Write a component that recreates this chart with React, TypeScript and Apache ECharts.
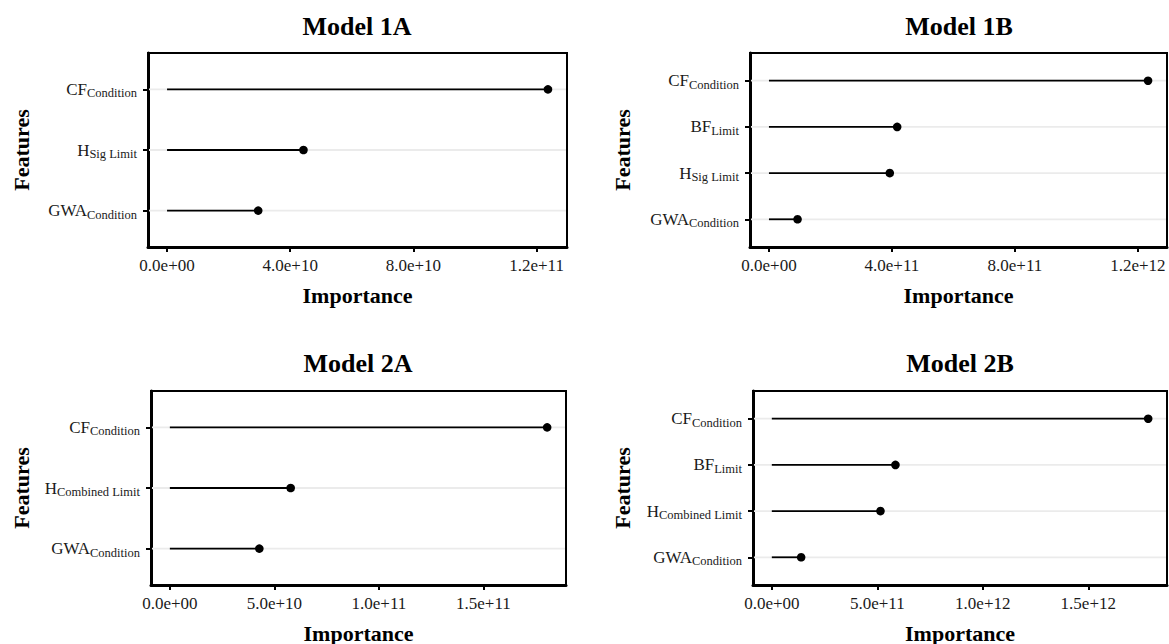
import React, { useEffect, useRef } from 'react';
import * as echarts from 'echarts';

const FONT = '"Liberation Serif", "Times New Roman", Times, serif';

// ---- Data (categories listed top to bottom) ----
const main1A = ['CF', 'H', 'GWA'];
const sub1A = ['Condition', 'Sig Limit', 'Condition'];
const values1A = [1.237e11, 4.43e10, 2.96e10];
const ticks1A = [0, 4e10, 8e10, 1.2e11];
const tickLabels1A = ['0.0e+00', '4.0e+10', '8.0e+10', '1.2e+11'];

const main1B = ['CF', 'BF', 'H', 'GWA'];
const sub1B = ['Condition', 'Limit', 'Sig Limit', 'Condition'];
const values1B = [1.233e12, 4.17e11, 3.93e11, 9.3e10];
const ticks1B = [0, 4e11, 8e11, 1.2e12];
const tickLabels1B = ['0.0e+00', '4.0e+11', '8.0e+11', '1.2e+12'];

const main2A = ['CF', 'H', 'GWA'];
const sub2A = ['Condition', 'Combined Limit', 'Condition'];
const values2A = [1.805e11, 5.78e10, 4.28e10];
const ticks2A = [0, 5e10, 1e11, 1.5e11];
const tickLabels2A = ['0.0e+00', '5.0e+10', '1.0e+11', '1.5e+11'];

const main2B = ['CF', 'BF', 'H', 'GWA'];
const sub2B = ['Condition', 'Limit', 'Combined Limit', 'Condition'];
const values2B = [1.784e12, 5.86e11, 5.15e11, 1.39e11];
const ticks2B = [0, 5e11, 1e12, 1.5e12];
const tickLabels2B = ['0.0e+00', '5.0e+11', '1.0e+12', '1.5e+12'];

const titles = ['Model 1A', 'Model 1B', 'Model 2A', 'Model 2B'];
const xName = 'Importance';
const yName = 'Features';

// ---- Layout ----
const layouts = [
  { left: 148, top: 53, width: 419, height: 194, titleX: 357, titleTop: 13, yGap: 116 },
  { left: 750, top: 53, width: 417, height: 194, titleX: 959, titleTop: 13, yGap: 117 },
  { left: 151, top: 391, width: 415, height: 194, titleX: 358, titleTop: 350, yGap: 119 },
  { left: 753, top: 391, width: 414, height: 194, titleX: 960, titleTop: 350, yGap: 120 },
];

const panels = [
  { main: main1A, sub: sub1A, values: values1A, ticks: ticks1A, tickLabels: tickLabels1A },
  { main: main1B, sub: sub1B, values: values1B, ticks: ticks1B, tickLabels: tickLabels1B },
  { main: main2A, sub: sub2A, values: values2A, ticks: ticks2A, tickLabels: tickLabels2A },
  { main: main2B, sub: sub2B, values: values2B, ticks: ticks2B, tickLabels: tickLabels2B },
];

function nearestIndex(arr: number[], v: number) {
  let best = 0;
  let bd = Infinity;
  arr.forEach((a, i) => {
    const d = Math.abs(a - v);
    if (d < bd) {
      bd = d;
      best = i;
    }
  });
  return best;
}

function buildOption() {
  const grid: any[] = [];
  const xAxis: any[] = [];
  const yAxis: any[] = [];
  const series: any[] = [];
  const title: any[] = [];

  panels.forEach((p, i) => {
    const L = layouts[i];
    const n = p.main.length;
    const maxV = Math.max(...p.values);
    const xmin = -0.05 * maxV;
    const xmax = 1.05 * maxV;
    const positions = p.main.map((_, k) => n - k);

    title.push({
      text: titles[i],
      left: L.titleX,
      top: L.titleTop,
      textAlign: 'center',
      padding: 0,
      textStyle: { fontFamily: FONT, fontWeight: 'bold', fontSize: 26, color: '#000' },
    });

    grid.push({
      left: L.left,
      top: L.top,
      width: L.width,
      height: L.height,
      show: true,
      borderColor: '#000',
      borderWidth: 2,
      backgroundColor: 'transparent',
      containLabel: false,
      outerBoundsMode: 'none',
    });

    xAxis.push({
      type: 'value',
      gridIndex: i,
      min: xmin,
      max: xmax,
      name: xName,
      nameLocation: 'middle',
      nameGap: 37,
      nameTextStyle: { fontFamily: FONT, fontWeight: 'bold', fontSize: 22, color: '#000' },
      axisLine: { show: true, onZero: false, lineStyle: { color: '#000', width: 3 } },
      axisTick: { show: true, length: 5, customValues: p.ticks, lineStyle: { color: '#000', width: 2 } },
      axisLabel: {
        customValues: p.ticks,
        margin: 10,
        fontFamily: FONT,
        fontSize: 17,
        color: '#1a1a1a',
        formatter: (v: number) => p.tickLabels[nearestIndex(p.ticks, v)],
      },
      splitLine: { show: false },
    });

    yAxis.push({
      type: 'value',
      gridIndex: i,
      min: 0.4,
      max: n + 0.6,
      name: yName,
      nameLocation: 'middle',
      nameRotate: 90,
      nameGap: L.yGap,
      nameTextStyle: { fontFamily: FONT, fontWeight: 'bold', fontSize: 22, color: '#000' },
      axisLine: { show: true, onZero: false, lineStyle: { color: '#000', width: 3 } },
      axisTick: { show: true, length: 5, customValues: positions, lineStyle: { color: '#000', width: 2 } },
      axisLabel: {
        customValues: positions,
        margin: 11,
        formatter: (v: number) => {
          const k = nearestIndex(positions, v);
          return `{m|${p.main[k]}}{s|${p.sub[k]}}`;
        },
        rich: {
          m: { fontFamily: FONT, fontSize: 17, color: '#1a1a1a' },
          s: { fontFamily: FONT, fontSize: 12.5, color: '#1a1a1a', padding: [8, 0, 0, 0] },
        },
      },
      splitLine: { show: false },
    });

    // horizontal gridlines at each feature
    series.push({
      type: 'custom',
      xAxisIndex: i,
      yAxisIndex: i,
      silent: true,
      z: 1,
      clip: false,
      data: positions.map((pos) => [xmin, xmax, pos]),
      encode: { x: [0, 1], y: 2 },
      renderItem: (_params: any, api: any) => {
        const a = api.coord([api.value(0), api.value(2)]);
        const b = api.coord([api.value(1), api.value(2)]);
        return {
          type: 'line',
          shape: { x1: a[0] + 1, y1: a[1], x2: b[0] - 1, y2: b[1] },
          style: { stroke: '#ebebeb', lineWidth: 1.8 },
        };
      },
    });

    // lollipops
    series.push({
      type: 'custom',
      xAxisIndex: i,
      yAxisIndex: i,
      silent: true,
      z: 3,
      clip: false,
      data: p.values.map((v, k) => [v, positions[k]]),
      encode: { x: 0, y: 1 },
      renderItem: (_params: any, api: any) => {
        const v = api.value(0);
        const y = api.value(1);
        const s = api.coord([0, y]);
        const e = api.coord([v, y]);
        return {
          type: 'group',
          children: [
            {
              type: 'line',
              shape: { x1: s[0], y1: s[1], x2: e[0], y2: e[1] },
              style: { stroke: '#000', lineWidth: 1.8 },
            },
            {
              type: 'circle',
              shape: { cx: e[0], cy: e[1], r: 4.3 },
              style: { fill: '#000' },
            },
          ],
        };
      },
    });
  });

  return {
    animation: false,
    backgroundColor: '#fff',
    textStyle: { fontFamily: FONT },
    title,
    grid,
    xAxis,
    yAxis,
    series,
  };
}

export default function App() {
  const ref = useRef<HTMLDivElement>(null);
  useEffect(() => {
    if (!ref.current) return;
    const chart = echarts.init(ref.current, null, { renderer: 'svg' });
    chart.setOption(buildOption() as any);
    return () => chart.dispose();
  }, []);
  return (
    <div
      ref={ref}
      style={{ position: 'fixed', left: 0, top: 0, width: 1169, height: 644, background: '#fff' }}
    />
  );
}
